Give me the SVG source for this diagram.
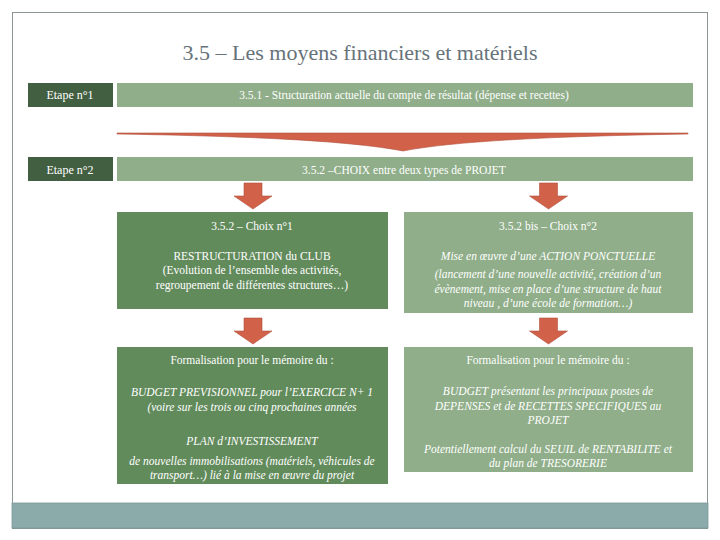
<svg xmlns="http://www.w3.org/2000/svg" width="720" height="540" viewBox="0 0 720 540">
<style>
text{font-family:"Liberation Serif","DejaVu Serif",serif;fill:#ffffff;text-anchor:middle}
.title{fill:#66737a;font-size:22px}
.step{font-size:12px}
.bar{font-size:11.5px}
.b{font-size:11.5px}
.i{font-size:11.5px;font-style:italic}
.dark{fill:#435f42}
.light{fill:#8fae89}
.mid{fill:#628b5c}
.arrow{fill:#d2614a;stroke:#b0503c;stroke-width:0.6}
</style>
<defs>
<path id="arr" d="M-9,0 H9 V13 H19 L0,26 L-19,13 H-9 Z"/>
</defs>
<rect x="12.5" y="12.5" width="695" height="516" fill="#ffffff" stroke="#8c9696" stroke-width="1"/>
<rect id="footer" x="12" y="503" width="696" height="25" fill="#8aabaa" stroke="#7d9a99" stroke-width="0.8"/>
<text class="title" x="360" y="60">3.5 – Les moyens financiers et matériels</text>

<g id="etape1">
<rect class="dark" x="28" y="83" width="85" height="24"/>
<text class="step" x="70" y="99">Etape n°1</text>
</g>
<g id="bar1">
<rect class="light" x="117" y="83" width="576" height="24"/>
<text class="bar" x="404" y="99">3.5.1 - Structuration actuelle du compte de résultat  (dépense et recettes)</text>
</g>
<g id="etape2">
<rect class="dark" x="28" y="157" width="85" height="24"/>
<text class="step" x="70" y="174">Etape n°2</text>
</g>
<g id="bar2">
<rect class="light" x="117" y="157" width="576" height="24"/>
<text class="bar" x="404" y="174">3.5.2 –CHOIX entre deux types de PROJET</text>
</g>

<g id="choix1">
<rect class="mid" x="117" y="212" width="271" height="97"/>
<text class="b" x="252" y="230">3.5.2 – Choix n°1</text>
<text class="b" x="252" y="260">RESTRUCTURATION  du CLUB</text>
<text class="b" x="252" y="274">(Evolution de l’ensemble des activités,</text>
<text class="b" x="252" y="289">regroupement de différentes structures…)</text>
</g>
<g id="choix2">
<rect class="light" x="404" y="212" width="289" height="101"/>
<text class="b" x="548" y="230">3.5.2 bis – Choix n°2</text>
<text class="i" x="548" y="260">Mise en œuvre d’une ACTION PONCTUELLE</text>
<text class="i" x="548" y="278">(lancement d’une nouvelle activité, création d’un</text>
<text class="i" x="548" y="293">évènement, mise en place d’une structure de haut</text>
<text class="i" x="548" y="307">niveau , d’une école de formation…)</text>
</g>

<g id="memoire1">
<rect class="mid" x="117" y="347" width="271" height="137"/>
<text class="b" x="252" y="364">Formalisation pour le mémoire du :</text>
<text class="i" x="252" y="396">BUDGET PREVISIONNEL pour l’EXERCICE N+ 1</text>
<text class="i" x="252" y="411">(voire sur les trois ou cinq prochaines années</text>
<text class="i" x="252" y="445">PLAN d’INVESTISSEMENT</text>
<text class="i" x="252" y="465">de nouvelles immobilisations (matériels, véhicules de</text>
<text class="i" x="252" y="479">transport…) lié à la mise en œuvre du projet</text>
</g>
<g id="memoire2">
<rect class="light" x="404" y="347" width="289" height="125"/>
<text class="b" x="548" y="364">Formalisation pour le mémoire du :</text>
<text class="i" x="548" y="395">BUDGET présentant les principaux postes de</text>
<text class="i" x="548" y="410">DEPENSES et de RECETTES SPECIFIQUES au</text>
<text class="i" x="548" y="424">PROJET</text>
<text class="i" x="548" y="453">Potentiellement calcul du SEUIL de RENTABILITE et</text>
<text class="i" x="548" y="467">du plan de TRESORERIE</text>
</g>

<g id="connectors">
<path class="arrow" d="M117,133 L688,133 L688,134 C570,136 460,140 403,151 C346,140 236,136 117,134 Z"/>
<use href="#arr" class="arrow" x="253" y="183"/>
<use href="#arr" class="arrow" x="548.5" y="183"/>
<use href="#arr" class="arrow" x="253" y="318"/>
<use href="#arr" class="arrow" x="548.5" y="318"/>
</g>
</svg>
